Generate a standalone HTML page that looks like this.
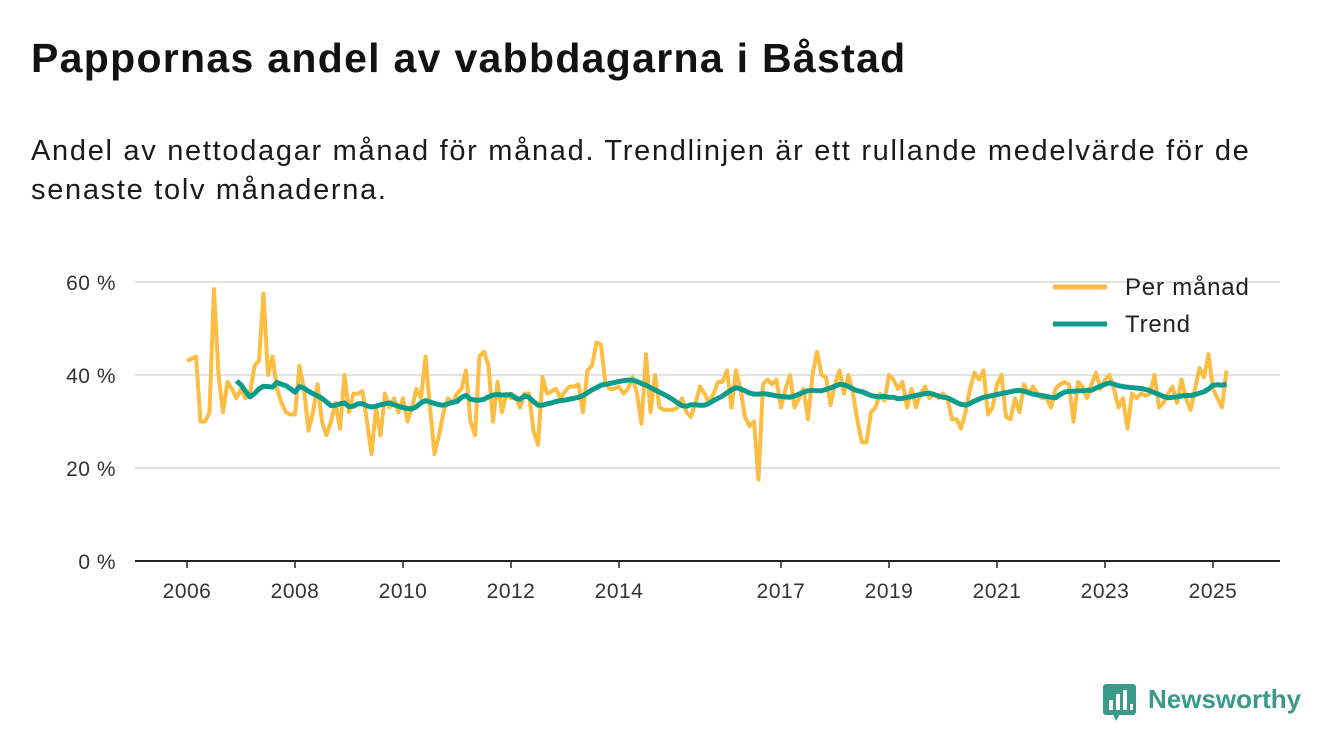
<!DOCTYPE html>
<html><head><meta charset="utf-8">
<style>
body{margin:0;background:#fff;font-family:"Liberation Sans",sans-serif;}
#wrap{position:relative;width:1340px;height:753px;overflow:hidden;background:#fff;}
h1{position:absolute;left:31px;top:35px;margin:0;font-size:41px;font-weight:bold;color:#121212;letter-spacing:1.3px;white-space:nowrap;}
p.sub{position:absolute;left:31px;top:132px;margin:0;font-size:29px;line-height:39px;color:#1a1a1a;width:1300px;letter-spacing:1.7px;white-space:nowrap;}
svg{position:absolute;left:0;top:0;}
</style></head>
<body>
<div id="wrap">
<h1>Pappornas andel av vabbdagarna i Båstad</h1>
<p class="sub">Andel av nettodagar månad för månad. Trendlinjen är ett rullande medelvärde för de<br>senaste tolv månaderna.</p>
<svg id="chart" width="1340" height="753"></svg>
</div>
<script>
const yTicks=[0,20,40,60];
const yTickLabels=["0 %","20 %","40 %","60 %"];
const xTickYears=[2006,2008,2010,2012,2014,2017,2019,2021,2023,2025];
const startYear=2006;
const monthly=[43,43.5,44,30,30,32,58.5,40,32,38.5,37,35,37,35,36,42,43,57.5,40,44,37,34,32,31.5,31.5,42,37,28,32,38,30,27,30,34,28.5,40,32,36,36,36.5,30,23,33,27,36,33,35,32,35,30,33,37,35,44,33,23,27,32,35,34,36,37,41,30,27,44,45,42,30,38.5,32,36,35,35.5,33,36,36,28,25,39.5,36,36.5,37,35,36.5,37.5,37.5,38,32,41,42,47,46.5,38,37,37,37.5,36,37,39.5,36,29.5,44.5,32,40,33,32.5,32.5,32.5,33,35,32,31,34,37.5,36,34,36,38.5,38.5,41,33,41,37,31,29,30,17.5,38,39,38,39,33,37,40,33,35,37,30.5,40,45,40,39.5,33.5,38,41,36,40,36,30,25.5,25.5,32,33,36,34.5,40,39,37,38.5,33,37,33,36,37.5,35,36,35,36,35,30.5,30.5,28.5,32,37,40.5,39,41,31.5,33,38,40,31,30.5,35,32,38,36,37.5,36,35,35,33,37,38,38.5,38,30,38.5,37.5,35,38,40.5,37,39,40,37,33,35,28.5,36,35,36,35.5,36,40,33,34,36,37.5,34,39,35,32.5,37,41.5,39.5,44.5,37,35,33,41];
const trendStart=11;
const trend=[38.7,37.9,36.5,35.3,36.0,37.0,37.6,37.5,37.4,38.4,38.0,37.7,37.0,36.3,37.5,37.2,36.5,36.0,35.5,35.0,34.2,33.4,33.5,33.8,34.0,33.2,33.3,33.8,33.8,33.4,33.1,33.3,33.6,33.8,34.0,33.6,33.3,33.0,32.8,32.7,33.2,34.0,34.5,34.2,33.9,33.6,33.5,33.8,34.1,34.3,35.2,35.6,34.8,34.6,34.6,34.8,35.3,35.7,35.8,35.7,35.7,35.8,35.0,34.8,35.5,35.2,34.3,33.5,33.5,33.8,34.0,34.3,34.5,34.6,34.8,35.0,35.2,35.6,36.2,36.8,37.3,37.8,38.0,38.2,38.4,38.6,38.8,38.9,38.9,38.6,38.2,37.8,37.3,36.8,36.3,35.8,35.3,34.7,34.0,33.4,33.3,33.6,33.6,33.5,33.5,33.9,34.5,35.0,35.5,36.2,36.8,37.3,37.0,36.6,36.1,35.9,35.9,36.0,35.9,35.7,35.5,35.4,35.3,35.2,35.5,35.9,36.3,36.6,36.7,36.6,36.6,36.9,37.2,37.6,38.0,37.9,37.5,37.0,36.6,36.4,36.0,35.6,35.4,35.3,35.4,35.2,35.2,34.9,35.0,35.2,35.4,35.6,35.8,36.0,36.1,35.8,35.5,35.2,35.1,34.6,34.1,33.7,33.5,33.9,34.4,34.8,35.2,35.4,35.6,35.8,36.0,36.2,36.4,36.6,36.7,36.5,36.2,35.9,35.7,35.6,35.4,35.2,35.1,35.8,36.3,36.5,36.5,36.6,36.6,36.7,36.7,37.2,37.6,38.0,38.3,38.0,37.7,37.5,37.4,37.3,37.2,37.1,36.9,36.6,36.2,35.8,35.4,35.1,35.2,35.3,35.5,35.6,35.6,35.8,36.1,36.4,37.0,37.8,37.9,37.8,38.0];

const NS="http://www.w3.org/2000/svg";
const svg=document.getElementById('chart');
const X0=187, PXM=4.5, Y0=561, PXP=4.65;
function xScale(i){return X0+PXM*i;}
function yScale(v){return Y0-PXP*v;}
function mk(tag,attrs){const e=document.createElementNS(NS,tag);for(const k in attrs)e.setAttribute(k,attrs[k]);svg.appendChild(e);return e;}

yTicks.forEach((t,k)=>{
  if(t>0){const g=mk('line',{x1:135,x2:1280,y1:yScale(t),y2:yScale(t),stroke:'#d9d9d9','stroke-width':1.5});
  
  }
  const tx=mk('text',{x:116,y:yScale(t)+8,'text-anchor':'end','font-size':21,'letter-spacing':0.5,fill:'#333','font-family':'Liberation Sans, sans-serif'});
  tx.textContent=yTickLabels[k];
  
  
});
const ax=mk('line',{x1:135,x2:1280,y1:Y0,y2:Y0,stroke:'#222','stroke-width':2});


xTickYears.forEach(yr=>{
  const x=xScale((yr-startYear)*12);
  const tk=mk('line',{x1:x,x2:x,y1:Y0,y2:Y0+7,stroke:'#222','stroke-width':1.5});
  
  
  const tx=mk('text',{x:x,y:598,'text-anchor':'middle','font-size':21,'letter-spacing':0.5,fill:'#333','font-family':'Liberation Sans, sans-serif'});
  tx.textContent=yr;
  
  
});
const mp=monthly.map((v,i)=>xScale(i).toFixed(1)+','+yScale(v).toFixed(1)).join(' ');
const ml=mk('polyline',{points:mp,fill:'none',stroke:'#fdbd42','stroke-width':4,'stroke-linejoin':'round'});


const tp=trend.map((v,i)=>xScale(i+trendStart).toFixed(1)+','+yScale(v).toFixed(1)).join(' ');
const tl=mk('polyline',{points:tp,fill:'none',stroke:'#0b9c8c','stroke-width':5,'stroke-linejoin':'round'});



const lg=[['Per månad','#fdbd42',287],['Trend','#0b9c8c',324]];
lg.forEach(l=>{
  const ln=mk('line',{x1:1053,x2:1107,y1:l[2],y2:l[2],stroke:l[1],'stroke-width':5});
  
  
  const t=mk('text',{x:1125,y:l[2]+8,'font-size':24,'letter-spacing':0.8,fill:'#222','font-family':'Liberation Sans, sans-serif'});
  t.textContent=l[0];
  
  
});

const ic=mk('rect',{x:1103,y:684,width:33,height:31,rx:3,fill:'#3a9a8a'});


mk('polygon',{points:'1113,714 1120,714 1116,721',fill:'#3a9a8a'});
[[1109,700,4,10],[1116,694,4,16],[1123,690,4,20],[1130,704,3,6]].forEach(b=>mk('rect',{x:b[0],y:b[1],width:b[2],height:b[3],fill:'#fff'}));
const lt=mk('text',{x:1148,y:708,'font-size':26,'font-weight':'bold',fill:'#3a9a8a','font-family':'Liberation Sans, sans-serif'});
lt.textContent='Newsworthy';


</script>
</body></html>
